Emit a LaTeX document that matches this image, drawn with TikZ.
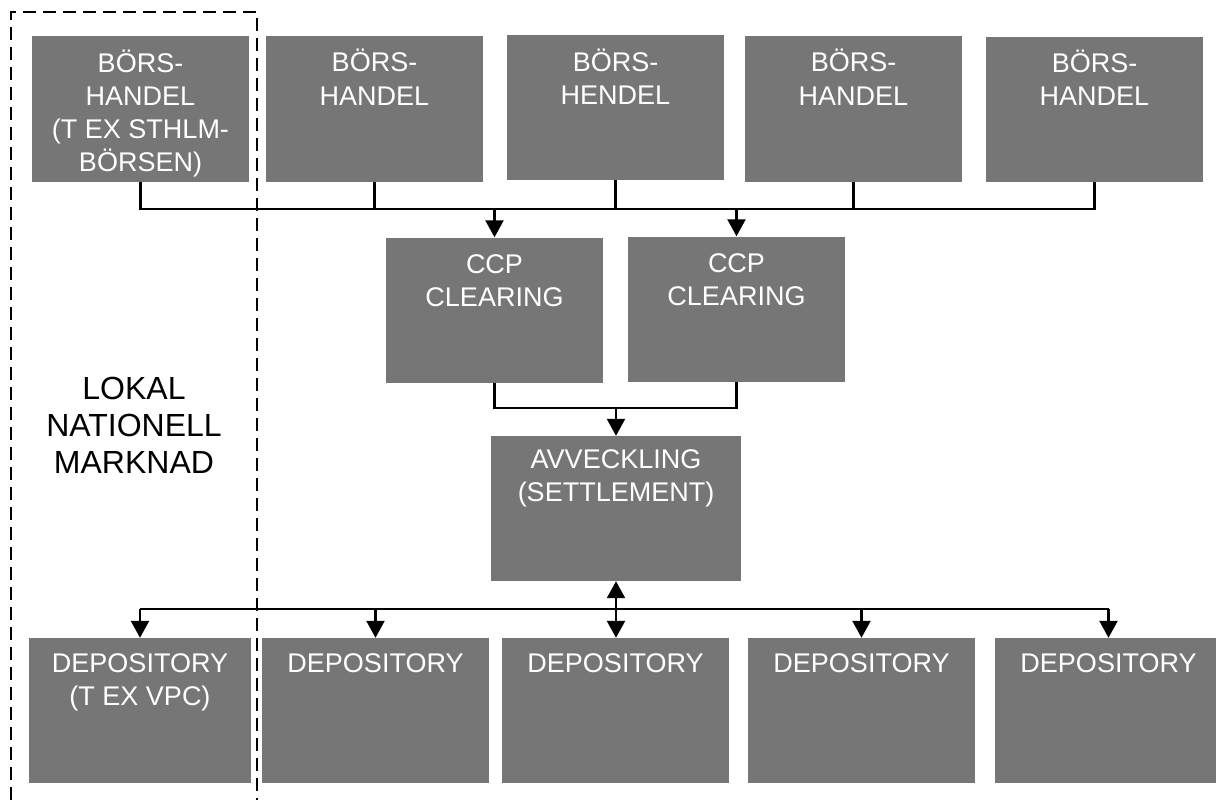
\documentclass[tikz,border=0pt]{standalone}
\usepackage{fontspec}
\setmainfont{Liberation Sans}
\usetikzlibrary{arrows.meta}
\definecolor{boxgrey}{RGB}{118,118,118}
\newcommand{\topstrut}{\rule{0pt}{24.5pt}}
\newcommand{\bigstrut}{\rule{0pt}{28pt}}
\tikzset{
  box/.style={rectangle, fill=boxgrey, draw=none, inner sep=0pt, minimum height=145pt},
  boxtext/.style={anchor=north, inner sep=0pt, text=white, align=center, font=\fontsize{27}{33}\selectfont},
  sidetext/.style={anchor=north, inner sep=0pt, text=black, align=center, font=\fontsize{32}{37}\selectfont},
  conn/.style={draw=black, line width=2.3pt},
  arr/.style={conn, -{Triangle[width=18pt,length=17pt]}},
  arrboth/.style={conn, {Triangle[width=18pt,length=17pt]}-{Triangle[width=18pt,length=17pt]}},
  frame/.style={draw=black, line width=2pt, dash pattern=on 13pt off 7pt}
}
\begin{document}
\begin{tikzpicture}[x=1pt,y=-1pt]
\useasboundingbox (0,0) rectangle (1216,800);
\clip (0,0) rectangle (1216,800);
\fill[white] (0,0) rectangle (1216,800);

% top row
\node[box, minimum width=217pt] (t1) at (140.5,109) {};
\node[box, minimum width=217pt] (t2) at (374.5,109) {};
\node[box, minimum width=217pt] (t3) at (615.5,107.5) {};
\node[box, minimum width=217pt] (t4) at (853.5,109) {};
\node[box, minimum width=217pt] (t5) at (1094.5,109.5) {};

% CCP
\node[box, minimum width=217pt] (c1) at (494.5,310) {};
\node[box, minimum width=217pt] (c2) at (736.5,309) {};

% settlement
\node[box, minimum width=250pt] (a) at (616,508.5) {};

% depositories
\node[box, minimum width=222pt] (d1) at (140,710.5) {};
\node[box, minimum width=227pt] (d2) at (375.5,710.5) {};
\node[box, minimum width=227pt] (d3) at (615.5,710.5) {};
\node[box, minimum width=227pt] (d4) at (861.5,710.5) {};
\node[box, minimum width=227pt] (d5) at (1108.5,710.5) {};

% texts
\node[boxtext] (t1t) at ([yshift=-11pt]t1.north) {\topstrut BÖRS-\\HANDEL\\(T EX STHLM-\\BÖRSEN)};
\node[boxtext] (t2t) at ([yshift=-11pt]t2.north) {\topstrut BÖRS-\\HANDEL};
\node[boxtext] (t3t) at ([yshift=-12pt]t3.north) {\topstrut BÖRS-\\HENDEL};
\node[boxtext] (t4t) at ([yshift=-11pt]t4.north) {\topstrut BÖRS-\\HANDEL};
\node[boxtext] (t5t) at ([yshift=-11pt]t5.north) {\topstrut BÖRS-\\HANDEL};
\node[boxtext] (c1t) at ([yshift=-11pt]c1.north) {\topstrut CCP\\CLEARING};
\node[boxtext] (c2t) at ([yshift=-11pt]c2.north) {\topstrut CCP\\CLEARING};
\node[boxtext] (at) at ([yshift=-8pt]a.north) {\topstrut AVVECKLING\\(SETTLEMENT)};
\node[boxtext] (d1t) at ([yshift=-10pt]d1.north) {\topstrut DEPOSITORY\\(T EX VPC)};
\node[boxtext] (d2t) at ([yshift=-10pt]d2.north) {\topstrut DEPOSITORY};
\node[boxtext] (d3t) at ([yshift=-10pt]d3.north) {\topstrut DEPOSITORY};
\node[boxtext] (d4t) at ([yshift=-10pt]d4.north) {\topstrut DEPOSITORY};
\node[boxtext] (d5t) at ([yshift=-10pt]d5.north) {\topstrut DEPOSITORY};

\node[sidetext] (side) at (134,371) {\bigstrut LOKAL\\NATIONELL\\MARKNAD};

% bus coordinates
\coordinate (bus) at (0,209);
\coordinate (mid) at (0,408);
\coordinate (low) at (0,609);

% top connectors
\draw[conn] (t1.south) -- (t1.south |- bus) -| (t5.south);
\draw[conn] (t2.south) -- (t2.south |- bus);
\draw[conn] (t3.south) -- (t3.south |- bus);
\draw[conn] (t4.south) -- (t4.south |- bus);
\draw[arr] (c1.north |- bus) -- (c1.north);
\draw[arr] (c2.north |- bus) -- (c2.north);

% CCP to settlement
\draw[conn] (c1.south) -- (c1.south |- mid) -| (c2.south);
\draw[arr] (a.north |- mid) -- (a.north);

% settlement to depositories
\draw[conn] (d1.north |- low) -- (d5.north |- low);
\draw[arr] (d1.north |- low) -- (d1.north);
\draw[arr] (d2.north |- low) -- (d2.north);
\draw[arr] (d4.north |- low) -- (d4.north);
\draw[arr] (d5.north |- low) -- (d5.north);
\draw[arrboth] (a.south) -- (a.south |- d3.north);

% dashed frame
\draw[frame] (11,820) -- (11,12) -- (257,12) -- (257,820);
\end{tikzpicture}
\end{document}
